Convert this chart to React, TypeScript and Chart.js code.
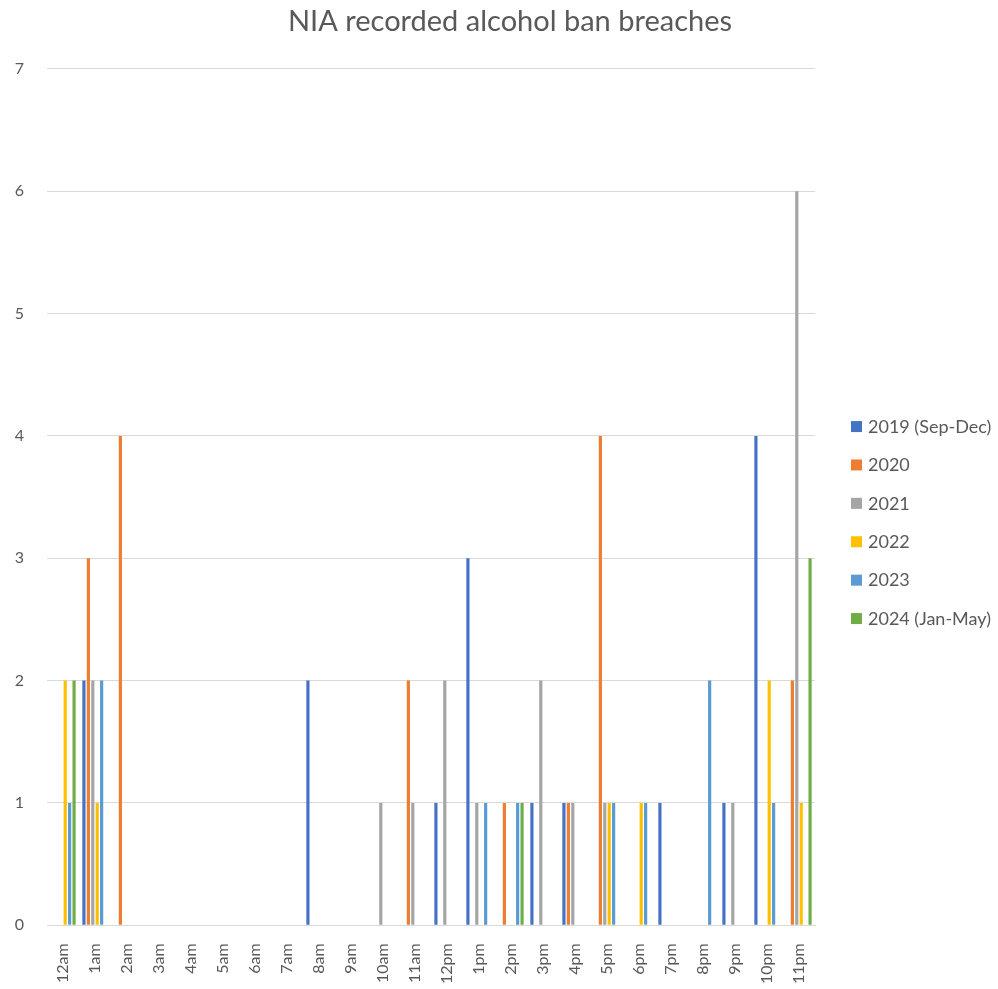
import React, { useEffect, useRef } from "react";
import { Chart, registerables } from "chart.js";

Chart.register(...registerables);

const hours = ["12am","1am","2am","3am","4am","5am","6am","7am","8am","9am","10am","11am","12pm","1pm","2pm","3pm","4pm","5pm","6pm","7pm","8pm","9pm","10pm","11pm"];

const s2019 = [0,2,0,0,0,0,0,0,2,0,0,0,1,3,0,1,1,0,0,1,0,1,4,0];
const s2020 = [0,3,4,0,0,0,0,0,0,0,0,2,0,0,1,0,1,4,0,0,0,0,0,2];
const s2021 = [0,2,0,0,0,0,0,0,0,0,1,1,2,1,0,2,1,1,0,0,0,1,0,6];
const s2022 = [2,1,0,0,0,0,0,0,0,0,0,0,0,0,0,0,0,1,1,0,0,0,2,1];
const s2023 = [1,2,0,0,0,0,0,0,0,0,0,0,0,1,1,0,0,1,1,0,2,0,1,0];
const s2024 = [2,0,0,0,0,0,0,0,0,0,0,0,0,0,1,0,0,0,0,0,0,0,0,3];

const seriesLabels = ["2019 (Sep-Dec)","2020","2021","2022","2023","2024 (Jan-May)"];
const seriesColors = ["#4472C4","#ED7D31","#A5A5A5","#FFC000","#5B9BD5","#70AD47"];
const yTicks = [0,1,2,3,4,5,6,7];

const TEXT = "#595959";

const sideLegend = {
  id: "sideLegend",
  afterDraw(chart: any) {
    const { ctx, chartArea } = chart;
    const step = 38.4;
    const n = chart.data.datasets.length;
    const mid = (chartArea.top + chartArea.bottom) / 2 + 25;
    const x0 = chartArea.right + 36;
    ctx.save();
    ctx.font = "18px Lato";
    ctx.textBaseline = "middle";
    ctx.textAlign = "left";
    chart.data.datasets.forEach((ds: any, i: number) => {
      const y = mid + (i - (n - 1) / 2) * step;
      ctx.fillStyle = ds.backgroundColor;
      ctx.fillRect(x0, y - 5, 11, 11);
      ctx.fillStyle = TEXT;
      ctx.fillText(ds.label, x0 + 17, y + 1);
    });
    ctx.restore();
  },
};

export default function App() {
  const ref = useRef<HTMLCanvasElement>(null);
  useEffect(() => {
    if (!ref.current) return;
    const values = [s2019, s2020, s2021, s2022, s2023, s2024];
    const chart = new Chart(ref.current, {
      type: "bar",
      data: {
        labels: hours,
        datasets: values.map((v, i) => ({
          label: seriesLabels[i],
          data: v,
          backgroundColor: seriesColors[i],
          borderWidth: 0,
          categoryPercentage: 0.83,
          barPercentage: 0.72,
        })),
      },
      plugins: [sideLegend],
      options: {
        responsive: false,
        animation: false,
        maintainAspectRatio: false,
        layout: { padding: { left: 0, right: -22, top: 0, bottom: -5 } },
        plugins: {
          title: {
            display: true,
            text: "NIA recorded alcohol ban breaches",
            color: TEXT,
            font: { family: "Lato", size: 29, weight: "normal" },
            padding: { top: 4, bottom: 30 },
          },
          legend: { display: false },
          tooltip: { enabled: false },
        },
        scales: {
          x: {
            grid: { display: false },
            border: { display: true, color: "#d9d9d9" },
            ticks: {
              color: TEXT,
              font: { family: "Lato", size: 16 },
              minRotation: 90,
              maxRotation: 90,
              autoSkip: false,
              padding: 10,
            },
          },
          y: {
            min: 0,
            max: 7,
            afterBuildTicks: (axis: any) => {
              axis.ticks = yTicks.map((v) => ({ value: v }));
            },
            afterFit: (axis: any) => {
              axis.width = 47;
            },
            grid: { color: "#d9d9d9", drawTicks: false },
            border: { display: false },
            ticks: {
              color: TEXT,
              font: { family: "Lato", size: 16 },
              padding: 23,
            },
          },
          legendSpace: {
            type: "linear",
            position: "right",
            display: true,
            grid: { display: false },
            border: { display: false },
            ticks: { display: false },
            afterFit: (axis: any) => {
              axis.width = 205;
            },
          },
        },
      },
    });
    return () => chart.destroy();
  }, []);
  return (
    <div style={{ position: "fixed", left: 0, top: 0, width: 998, height: 989, background: "#fff" }}>
      <canvas ref={ref} width={998} height={989} style={{ width: 998, height: 989 }} />
    </div>
  );
}
